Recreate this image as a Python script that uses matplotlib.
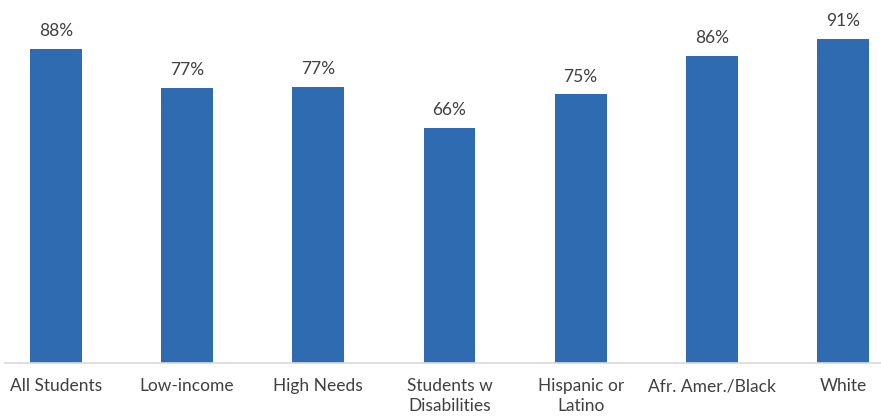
import matplotlib
matplotlib.use("Agg")
import matplotlib.pyplot as plt

categories = ["All Students", "Low-income", "High Needs", "Students w\nDisabilities",
              "Hispanic or\nLatino", "Afr. Amer./Black", "White"]
values = [88.0, 77.1, 77.4, 66.0, 75.3, 86.1, 91.0]

plt.rcParams['font.family'] = ['Lato', 'DejaVu Sans']

fig = plt.figure(figsize=(8.81, 4.18), dpi=100)
ax = fig.add_axes([5/881, 1 - 363/418, 876/881, 363/418])

x = list(range(len(categories)))
bars = ax.bar(x, values, width=0.396, color="#2E6BB0", zorder=2)

for xi, v in zip(x, values):
    ax.annotate(f"{round(v):.0f}%", (xi, v), xytext=(0, 7), textcoords="offset points",
                ha="center", va="bottom", fontsize=12.5, color="#404040")

ax.set_xlim(-0.389, 6.29)
ax.set_ylim(0, 101.8)
ax.set_yticks([])
ax.set_xticks(x)
ax.set_xticklabels(categories, fontsize=12.5, color="#404040", linespacing=1.25)
ax.tick_params(axis="x", length=0, pad=11)
for s in ["top", "right", "left"]:
    ax.spines[s].set_visible(False)
ax.spines["bottom"].set_color("#D9D9D9")
ax.spines["bottom"].set_linewidth(1.2)

fig.savefig("out.png", dpi=100)
